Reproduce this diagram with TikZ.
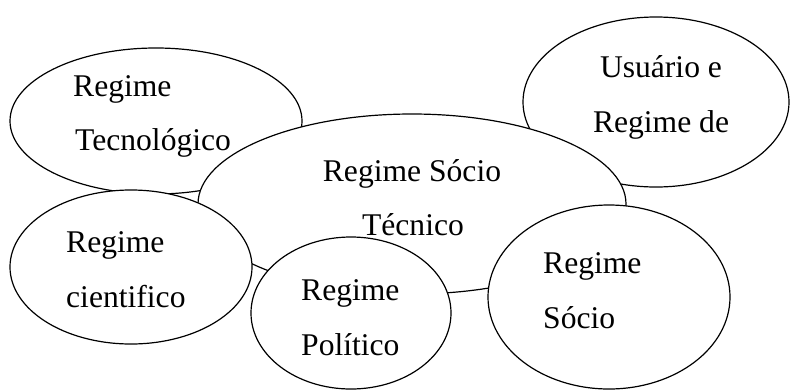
\documentclass[tikz,border=0pt]{standalone}
\usepackage{fontspec}
\setmainfont{Liberation Serif}
\usetikzlibrary{shapes.geometric}
\tikzset{
  ell/.style={ellipse, draw=black, fill=white, line width=1.2pt, inner sep=0pt},
  txt/.style={inner sep=0pt, font=\fontsize{31.6}{38}\selectfont},
  lft/.style={txt, anchor=base west},
  ctr/.style={txt, anchor=base}
}
\begin{document}
\begin{tikzpicture}[x=1pt,y=-1pt]
\useasboundingbox (0,0) rectangle (790,389);
% ellipses, back to front
\node[ell, minimum width=292pt, minimum height=146pt] (e1) at (156,121) {};
\node[ell, minimum width=266pt, minimum height=170pt] (e2) at (656,102) {};
\node[ell, minimum width=428pt, minimum height=180pt] (e3) at (412,204) {};
\node[ell, minimum width=242pt, minimum height=154pt] (e4) at (131,267) {};
\node[ell, minimum width=200pt, minimum height=152pt] (e5) at (351,313) {};
\node[ell, minimum width=242pt, minimum height=184pt] (e6) at (609,297) {};
% texts
\node[lft] (t1a) at (73,96) {Regime};
\node[lft] (t1b) at (75,150) {Tecnológico};
\node[ctr] (t2a) at (661,77) {Usuário e};
\node[ctr] (t2b) at (661,132) {Regime de};
\node[ctr] (t3a) at (412,181) {Regime Sócio};
\node[ctr] (t3b) at (413,235) {Técnico};
\node[lft] (t4a) at (66,252) {Regime};
\node[lft] (t4b) at (66,307) {cientifico};
\node[lft] (t5a) at (301,300) {Regime};
\node[lft] (t5b) at (301,355) {Político};
\node[lft] (t6a) at (543,273) {Regime};
\node[lft] (t6b) at (543,328) {Sócio};
\end{tikzpicture}
\end{document}
